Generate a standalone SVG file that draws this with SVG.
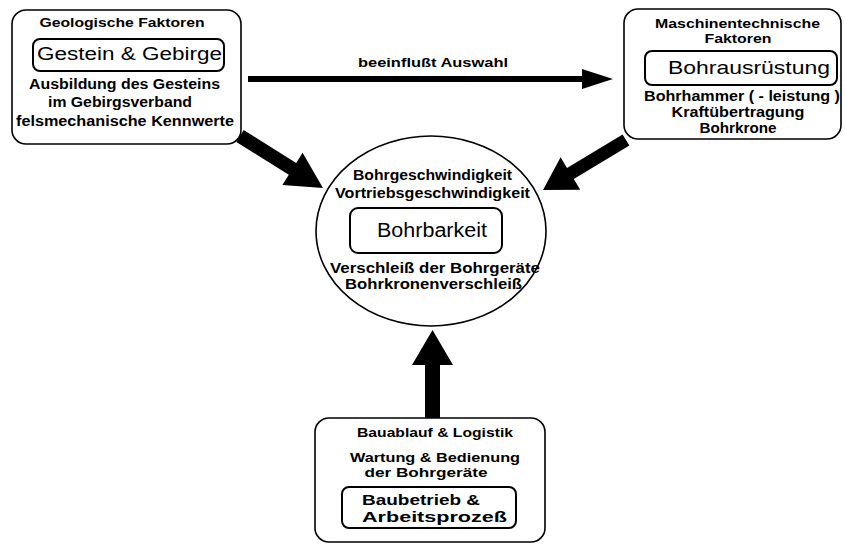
<svg xmlns="http://www.w3.org/2000/svg" width="845" height="544" viewBox="0 0 845 544">
<style>
.box{fill:#fff;stroke:#000;stroke-width:1.6}
.ibox{fill:none;stroke:#000;stroke-width:2}
.arr{fill:#000;stroke:none}
text{font-family:"Liberation Sans",Arial,sans-serif;fill:#000;text-anchor:middle}
.s{font-size:14px;font-weight:bold}
.t{font-size:13px;font-weight:bold}
.b{font-weight:normal}
</style>
<rect width="845" height="544" fill="#fff"/>
<g id="connectors">
<polygon class="arr" points="248,76 582,76 582,69 613,79 582,89 582,82 248,82"/>
<text class="t" x="433" y="67" style="font-size:12px" textLength="150" lengthAdjust="spacingAndGlyphs">beeinflußt Auswahl</text>
<polygon class="arr" points="243.7,130.1 296.2,163 302.6,152.8 323,188 282.4,185 288.8,174.8 236.3,141.9"/>
<polygon class="arr" points="622.6,134.4 567,167.9 560.6,157.2 543,190 580.2,189.8 573.8,179.1 629.4,145.6"/>
<polygon class="arr" points="425,418 425,365 412,365 432.5,330 453,365 440,365 440,418"/>
</g>
<g id="geologie">
<rect class="box" x="12" y="10" width="229" height="134" rx="14"/>
<text class="t" x="122" y="27" textLength="165" lengthAdjust="spacingAndGlyphs">Geologische Faktoren</text>
<rect class="ibox" x="33" y="39" width="191" height="32" rx="7"/>
<text class="b" x="129.5" y="60" style="font-size:18px" textLength="185" lengthAdjust="spacingAndGlyphs">Gestein &amp; Gebirge</text>
<text class="s" x="124.5" y="89" textLength="191" lengthAdjust="spacingAndGlyphs">Ausbildung des Gesteins</text>
<text class="s" x="120" y="107" textLength="144" lengthAdjust="spacingAndGlyphs">im Gebirgsverband</text>
<text class="s" x="125" y="126" textLength="218" lengthAdjust="spacingAndGlyphs">felsmechanische Kennwerte</text>
</g>
<g id="maschine">
<rect class="box" x="624" y="9" width="217" height="130" rx="14"/>
<text class="t" x="737.5" y="28" textLength="165" lengthAdjust="spacingAndGlyphs">Maschinentechnische</text>
<text class="t" x="738" y="43" textLength="67" lengthAdjust="spacingAndGlyphs">Faktoren</text>
<rect class="ibox" x="645" y="51" width="192" height="34" rx="7"/>
<text class="b" x="749" y="74" style="font-size:19px" textLength="162" lengthAdjust="spacingAndGlyphs">Bohrausrüstung</text>
<text class="s" x="742" y="101" textLength="196" lengthAdjust="spacingAndGlyphs">Bohrhammer ( - leistung )</text>
<text class="s" x="738" y="117" textLength="133" lengthAdjust="spacingAndGlyphs">Kraftübertragung</text>
<text class="s" x="738" y="133" textLength="77" lengthAdjust="spacingAndGlyphs">Bohrkrone</text>
</g>
<g id="bohrbarkeit">
<ellipse class="box" cx="431" cy="231" rx="115" ry="95"/>
<text class="s" x="432.5" y="180" textLength="159" lengthAdjust="spacingAndGlyphs">Bohrgeschwindigkeit</text>
<text class="s" x="432.5" y="198" textLength="195" lengthAdjust="spacingAndGlyphs">Vortriebsgeschwindigkeit</text>
<rect class="ibox" x="350" y="208" width="152" height="45" rx="8"/>
<text class="b" x="432" y="237" style="font-size:20px" textLength="110" lengthAdjust="spacingAndGlyphs">Bohrbarkeit</text>
<text class="s" x="435" y="273" textLength="210" lengthAdjust="spacingAndGlyphs">Verschleiß der Bohrgeräte</text>
<text class="s" x="433.5" y="289" textLength="177" lengthAdjust="spacingAndGlyphs">Bohrkronenverschleiß</text>
</g>
<g id="baubetrieb">
<rect class="box" x="315" y="418" width="230" height="124" rx="14"/>
<text class="t" x="435" y="437" textLength="156" lengthAdjust="spacingAndGlyphs">Bauablauf &amp; Logistik</text>
<text class="t" x="435" y="462" textLength="170" lengthAdjust="spacingAndGlyphs">Wartung &amp; Bedienung</text>
<text class="t" x="426" y="477" textLength="123" lengthAdjust="spacingAndGlyphs">der Bohrgeräte</text>
<rect class="ibox" x="342" y="487" width="174" height="41" rx="7"/>
<text class="s" x="362" y="505" style="font-size:15px;text-anchor:start" textLength="118" lengthAdjust="spacingAndGlyphs">Baubetrieb &amp;</text>
<text class="s" x="362" y="522" style="font-size:15px;text-anchor:start" textLength="145" lengthAdjust="spacingAndGlyphs">Arbeitsprozeß</text>
</g>
</svg>
